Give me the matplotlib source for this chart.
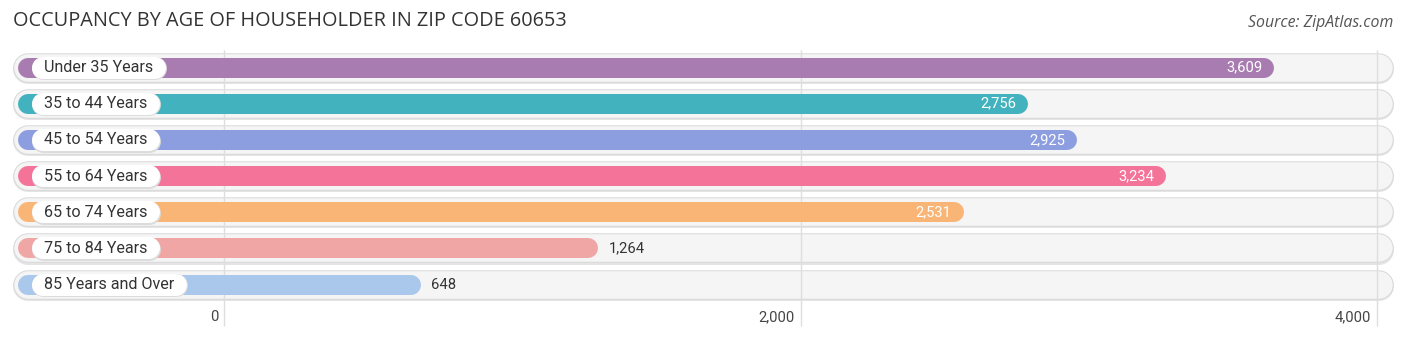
import matplotlib
matplotlib.use("Agg")
import matplotlib.pyplot as plt

categories = ["Under 35 Years", "35 to 44 Years", "45 to 54 Years", "55 to 64 Years",
              "65 to 74 Years", "75 to 84 Years", "85 Years and Over"]
values = [3609, 2756, 2925, 3234, 2531, 1264, 648]
colors = ["#a97cb1", "#42b2be", "#8d9ee0", "#f47399", "#f9b575", "#f0a6a5", "#a9c8ec"]
ticks = [0, 2000, 4000]
tick_labels = ["0", "2,000", "4,000"]
title = "OCCUPANCY BY AGE OF HOUSEHOLDER IN ZIP CODE 60653"
source = "Source: ZipAtlas.com"

W, H, DPI = 1406, 340, 100
fig = plt.figure(figsize=(W / DPI, H / DPI), dpi=DPI)
ax = fig.add_axes([0, 0, 1, 1])
ax.set_axis_off()

# pixel mapping
X0_PX = 224.0
PX_PER_UNIT = (1377.0 - 224.0) / 4000.0
ROW0_PX = 67.5
ROW_STEP = 36.2

def px2x(px):
    return (px - X0_PX) / PX_PER_UNIT

def px2y(py):
    return (py - ROW0_PX) / ROW_STEP

ax.set_xlim(px2x(0), px2x(W))
ax.set_ylim(px2y(H), px2y(0))

PT = 72.0 / DPI  # points per pixel

# gridlines
for t in ticks:
    ax.plot([t, t], [px2y(50), px2y(326)], color="#dedede", lw=1.0, zorder=2,
            solid_capstyle="butt")

fs_label = 11.6
for i, (cat, v, c) in enumerate(zip(categories, values, colors)):
    # background pill with border
    ax.plot([px2x(28), px2x(1379)], [i + 0.03, i + 0.03], color="#e4e4e4", lw=30 * PT,
            solid_capstyle="round", zorder=0.5)
    ax.plot([px2x(28), px2x(1379)], [i, i], color="#d9d9d9", lw=29.5 * PT,
            solid_capstyle="round", zorder=1)
    ax.plot([px2x(28), px2x(1379)], [i, i], color="#f5f5f5", lw=27.5 * PT,
            solid_capstyle="round", zorder=1.1)
    # value bar
    ax.plot([px2x(28), v], [i, i], color=c, lw=20 * PT, solid_capstyle="round", zorder=3)
    # category label
    ax.text(px2x(44), i, cat, ha="left", va="center", fontsize=fs_label,
            family="Roboto", color="#333333", zorder=5)
    # value label
    vpx = X0_PX + v * PX_PER_UNIT
    if v > 2000:
        ax.text(px2x(vpx - 2), i, f"{v:,}", ha="right", va="center", fontsize=10.6,
                family="Roboto", color="white", zorder=5)
    else:
        ax.text(px2x(vpx + 20), i, f"{v:,}", ha="left", va="center", fontsize=10.6,
                family="Roboto", color="#333333", zorder=5)

# white label pills sized to text
fig.canvas.draw()
renderer = fig.canvas.get_renderer()
inv = ax.transData.inverted()
for i, t in enumerate([tx for tx in ax.texts if tx.get_text() in categories]):
    bb = t.get_window_extent(renderer)
    right_px = bb.x1 + 13
    x_end = inv.transform((right_px - 11, 0))[0]
    ax.plot([px2x(43), x_end], [i + 0.02, i + 0.02], color="#dcdcdc", lw=23 * PT,
            solid_capstyle="round", zorder=3.5)
    ax.plot([px2x(43), x_end], [i, i], color="white", lw=22 * PT,
            solid_capstyle="round", zorder=4)

# tick labels
for t, lab in zip(ticks, tick_labels):
    tpx = X0_PX + t * PX_PER_UNIT
    ax.text(px2x(tpx - 6), px2y(317), lab, ha="right", va="center", fontsize=10.6,
            family="Roboto", color="#444444")

fig.text(13 / W, 1 - 21 / H, title, ha="left", va="center", fontsize=14.3,
         family="Open Sans", color="#333333")
fig.text(1393 / W, 1 - 23 / H, source, ha="right", va="center", fontsize=11.4,
         family="Open Sans", style="italic", color="#555555")

fig.savefig("out.png", dpi=DPI, facecolor="white")
